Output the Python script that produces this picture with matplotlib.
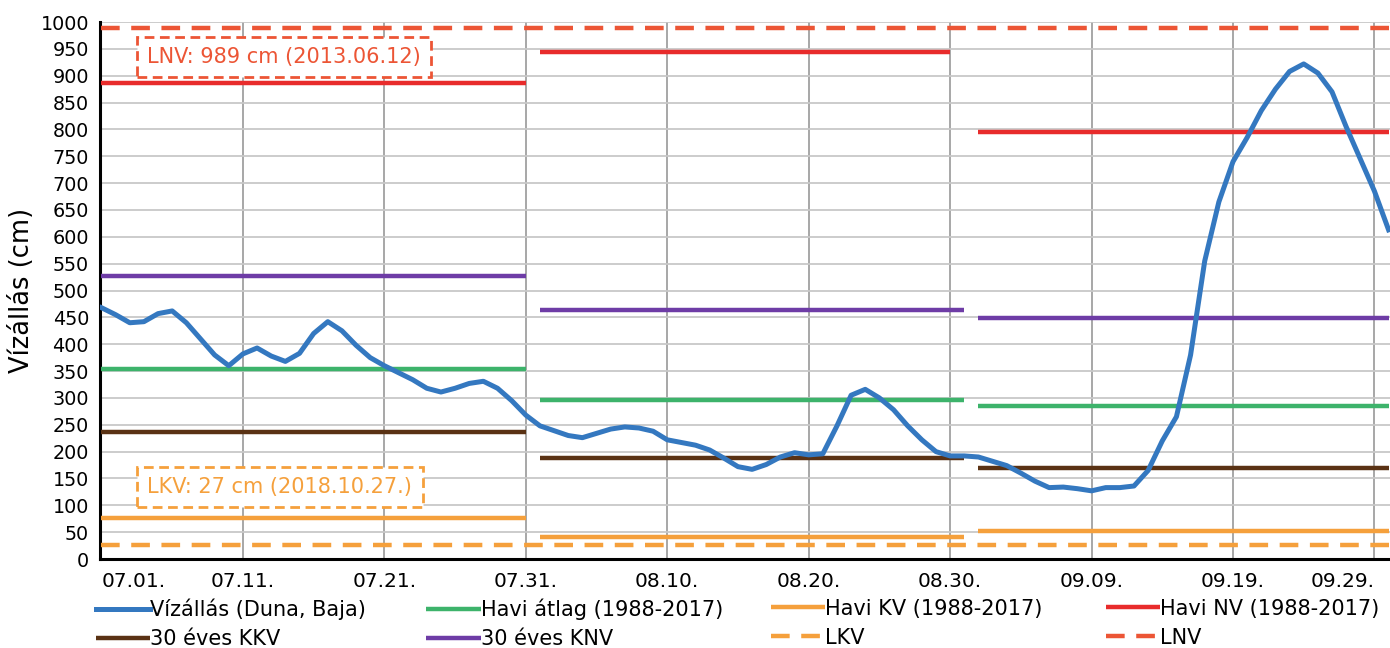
import matplotlib.pyplot as plt

# water level at Baja, one value per day from 07.01. (day 0) to 09.30. (day 91)
level = [468, 455, 440, 442, 457, 462, 440, 410, 380, 360,
         382, 393, 378, 368, 383, 420, 442, 425, 398, 375,
         360, 347, 334, 318, 311, 318, 327, 331, 318, 295,
         268, 248, 239, 230, 226, 234, 242, 246, 244, 238,
         222, 217, 212, 203, 188, 172, 167, 176, 190, 198,
         194, 196, 248, 305, 316, 300, 278, 248, 222, 200,
         192, 192, 190, 182, 174, 160, 145, 133, 134, 131,
         127, 133, 133, 136, 165, 220, 265, 380, 555, 665,
         740, 785, 835, 875, 908, 922, 905, 870, 805, 745,
         685, 613]

# monthly reference values (July, August, September)
month_start = [0, 31, 62]
month_end = [30, 61, 91]
nv_end = [30, 60, 91]
havi_atlag = [354, 296, 285]
havi_kv = [76, 41, 52]
havi_nv = [887, 944, 795]
kkv_30 = [236, 188, 169]
knv_30 = [527, 464, 449]
lkv = 27
lnv = 989

tick_days = [0, 10, 20, 30, 40, 50, 60, 70, 80, 90]
tick_labels = ["07.01.", "07.11.", "07.21.", "07.31.", "08.10.",
               "08.20.", "08.30.", "09.09.", "09.19.", "09.29."]

c_blue = "#3478c0"
c_green = "#3db36b"
c_orange = "#f5a03c"
c_red = "#e82c2c"
c_lnv = "#ec5535"
c_brown = "#5a3214"
c_purple = "#6e3ca6"

plt.rcParams["font.family"] = "DejaVu Sans"

fig = plt.figure(figsize=(13.9, 6.48), dpi=100)
ax = fig.add_axes([0.072, 0.1373, 0.928, 0.8287])

days = list(range(len(level)))
lw = 3.2


def monthly(values, ends, color, label):
    for i in range(3):
        ax.plot([month_start[i], ends[i]], [values[i], values[i]], color=color,
                lw=lw, solid_capstyle="butt", label=label if i == 0 else None, zorder=3)


ax.plot(days, level, color=c_blue, lw=3.6, zorder=5, solid_joinstyle="round",
        label="Vízállás (Duna, Baja)")
monthly(havi_atlag, month_end, c_green, "Havi átlag (1988-2017)")
monthly(havi_kv, month_end, c_orange, "Havi KV (1988-2017)")
monthly(havi_nv, nv_end, c_red, "Havi NV (1988-2017)")
monthly(kkv_30, month_end, c_brown, "30 éves KKV")
monthly(knv_30, month_end, c_purple, "30 éves KNV")
ax.plot([0, 91.2], [lkv, lkv], color=c_orange, lw=lw, dashes=(4.2, 2.6),
        label="LKV", zorder=3)
ax.plot([0, 91.2], [lnv, lnv], color=c_lnv, lw=lw, dashes=(4.2, 2.6),
        label="LNV", zorder=3)

ax.text(12.9, 935, "LNV: 989 cm (2013.06.12)", color=c_lnv, fontsize=15,
        ha="center", va="center", zorder=6,
        bbox=dict(boxstyle="square,pad=0.5", fc="white", ec=c_lnv, lw=2, ls=(0, (3.5, 2))))
ax.text(12.6, 134, "LKV: 27 cm (2018.10.27.)", color=c_orange, fontsize=15,
        ha="center", va="center", zorder=6,
        bbox=dict(boxstyle="square,pad=0.5", fc="white", ec=c_orange, lw=2, ls=(0, (3.5, 2))))

ax.set_xlim(-0.1, 91.1)
ax.set_ylim(0, 1000)
ax.set_yticks(range(0, 1001, 50))
ax.set_xticks(tick_days)
ax.set_xticklabels(tick_labels)
xl = ax.get_xticklabels()
xl[0].set_horizontalalignment("left")
xl[-1].set_horizontalalignment("right")
ax.tick_params(length=0)
ax.tick_params(axis="x", pad=9, labelsize=14.5)
ax.tick_params(axis="y", pad=8, labelsize=13.8)
ax.set_ylabel("Vízállás (cm)", fontsize=18.5, labelpad=4)

ax.yaxis.grid(True, color="#c8c8c8", lw=1.3)
ax.xaxis.grid(True, color="#a0a0a0", lw=1.3)
ax.set_axisbelow(True)
for s in ["top", "right"]:
    ax.spines[s].set_visible(False)
ax.spines["left"].set_linewidth(2.2)
ax.spines["bottom"].set_linewidth(2.2)

# legend: four equal-width columns of two entries each
handles, labels = ax.get_legend_handles_labels()
columns = [[0, 4], [1, 5], [2, 6], [3, 7]]
col_x = [-0.003, 0.253, 0.520, 0.780]
for cols, x in zip(columns, col_x):
    leg = fig.legend([handles[i] for i in cols], [labels[i] for i in cols],
                     loc="upper left", bbox_to_anchor=(x, -0.074),
                     bbox_transform=ax.transAxes,
                     frameon=False, fontsize=15, handlelength=2.6, handletextpad=0.0,
                     borderpad=0, borderaxespad=0, labelspacing=0.42)

fig.savefig("out.png", dpi=100)
